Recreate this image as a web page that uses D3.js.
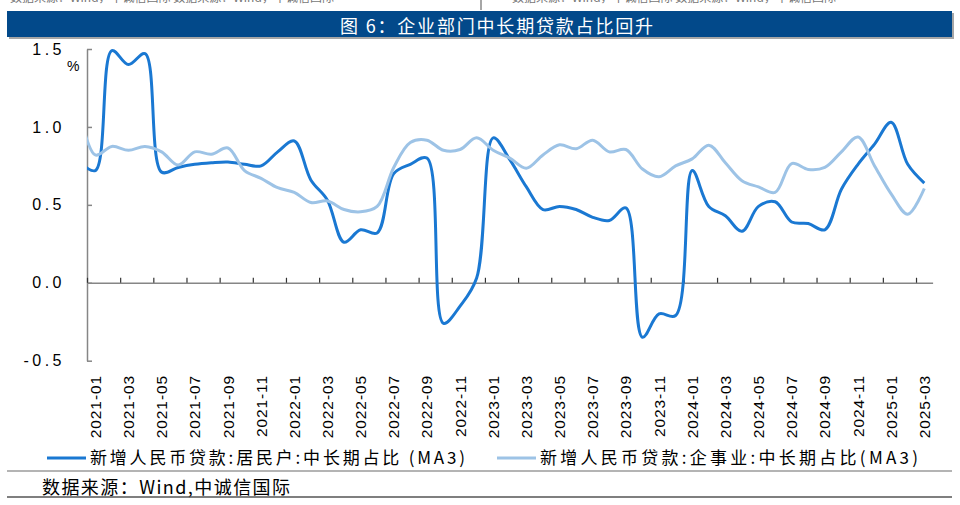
<!DOCTYPE html>
<html>
<head>
<meta charset="utf-8">
<script src="https://cdn.jsdelivr.net/npm/d3@7/dist/d3.min.js"></script>
<style>
  body { margin: 0; background: #fff; }
  text { font-family: "Liberation Sans", Arial, sans-serif; }
  .cjk { font-family: "Noto Sans CJK SC", sans-serif; }
</style>
</head>
<body>
<svg></svg>
<script>
var width = 960;
var height = 505;

// monthly categories, 2020-12 sits just left of the axis and is clipped away
var months = [
    "2020-12",
    "2021-01", "2021-02", "2021-03", "2021-04", "2021-05", "2021-06",
    "2021-07", "2021-08", "2021-09", "2021-10", "2021-11", "2021-12",
    "2022-01", "2022-02", "2022-03", "2022-04", "2022-05", "2022-06",
    "2022-07", "2022-08", "2022-09", "2022-10", "2022-11", "2022-12",
    "2023-01", "2023-02", "2023-03", "2023-04", "2023-05", "2023-06",
    "2023-07", "2023-08", "2023-09", "2023-10", "2023-11", "2023-12",
    "2024-01", "2024-02", "2024-03", "2024-04", "2024-05", "2024-06",
    "2024-07", "2024-08", "2024-09", "2024-10", "2024-11", "2024-12",
    "2025-01", "2025-02", "2025-03"
];

// 新增人民币贷款:居民户:中长期占比 (MA3)
var household = [
    0.78,
    0.72, 1.49, 1.40, 1.47, 0.71, 0.74, 0.76, 0.77, 0.775, 0.76, 0.75, 0.84,
    0.91, 0.66, 0.53, 0.26, 0.34, 0.32, 0.70, 0.76, 0.80, -0.26, -0.15, 0.03,
    0.93, 0.79, 0.615, 0.47, 0.49, 0.47, 0.42, 0.40, 0.48, -0.35, -0.20, -0.21,
    0.72, 0.49, 0.43, 0.33, 0.49, 0.52, 0.39, 0.38, 0.34, 0.60, 0.76, 0.89,
    1.03, 0.76, 0.64
];

// 新增人民币贷款:企事业:中长期占比 (MA3)
var corporate = [
    1.12,
    0.82, 0.875, 0.85, 0.875, 0.84, 0.755, 0.84, 0.825, 0.865, 0.72, 0.67, 0.61,
    0.58, 0.515, 0.525, 0.47, 0.455, 0.49, 0.74, 0.90, 0.915, 0.85, 0.855, 0.93,
    0.85, 0.80, 0.735, 0.82, 0.885, 0.86, 0.915, 0.84, 0.855, 0.73, 0.68, 0.75,
    0.795, 0.883, 0.77, 0.655, 0.615, 0.58, 0.765, 0.727, 0.74, 0.84, 0.935, 0.75,
    0.57, 0.44, 0.605
];

var yTicks = [-0.5, 0, 0.5, 1.0, 1.5];
var seriesNames = ["新增人民币贷款:居民户:中长期占比 (MA3)", "新增人民币贷款:企事业:中长期占比(MA3)"];
var seriesColors = ["#1a78d2", "#9dc3e6"];
var titleText = "图 6：企业部门中长期贷款占比回升";
var sourceText = "数据来源：Wind,中诚信国际";
var topRemnant = "数据来源：Wind，中诚信国际";

var svg = d3.select("svg")
    .attr("width", width)
    .attr("height", height);

// bits of the previous exhibit peeking in at the top edge
[10, 512].forEach(function(tx) {
    svg.append("text")
        .attr("class", "cjk")
        .attr("x", tx).attr("y", 1.5)
        .attr("font-size", 12).attr("fill", "#777")
        .text(topRemnant + "            " + topRemnant);
});
svg.append("line")
    .attr("x1", 481).attr("x2", 481).attr("y1", 0).attr("y2", 10)
    .attr("stroke", "#888").attr("stroke-width", 1.5);

// title bar
svg.append("rect")
    .attr("x", 9).attr("y", 13).attr("width", 945).attr("height", 26)
    .attr("fill", "#a6a6a6");
svg.append("rect")
    .attr("x", 7).attr("y", 11).attr("width", 945).attr("height", 26)
    .attr("fill", "#02498a");
svg.append("text")
    .attr("class", "cjk")
    .attr("x", 340).attr("y", 25)
    .attr("dominant-baseline", "central")
    .attr("font-size", 18)
    .attr("fill", "#fff")
    .attr("textLength", 313)
    .attr("lengthAdjust", "spacing")
    .text(titleText);

// scales
var x = d3.scaleLinear()
    .domain([0.5, months.length - 0.5])
    .range([87, 932.6]);

var y = d3.scaleLinear()
    .domain([-0.5, 1.5])
    .range([360.7, 49]);

svg.append("clipPath").attr("id", "plot-clip")
  .append("rect")
    .attr("x", x.range()[0]).attr("y", 30)
    .attr("width", x.range()[1] - x.range()[0]).attr("height", 345);

// y axis
var yAxis = svg.append("g")
    .attr("transform", "translate(" + x.range()[0] + ",0)")
    .call(d3.axisLeft(y)
        .tickValues(yTicks)
        .tickSize(-5)
        .tickSizeOuter(0)
        .tickPadding(22)
        .tickFormat(d3.format(".1f")));
yAxis.select(".domain").attr("stroke", "#868686").attr("stroke-width", 1.5);
yAxis.selectAll(".tick line").attr("stroke", "#868686").attr("stroke-width", 1.5);
yAxis.selectAll(".tick text")
    .attr("font-family", "Liberation Sans, Arial, sans-serif")
    .attr("font-size", 16)
    .attr("fill", "#000")
    .style("letter-spacing", "3.5px")
    .text(function(d) { return d3.format(".1f")(d).replace("−", "-"); });

svg.append("text")
    .attr("x", 67).attr("y", 66)
    .attr("dominant-baseline", "central")
    .attr("font-size", 14)
    .text("%");

// category axis along zero, ticks every two months on band edges
var xAxis = svg.append("g")
    .attr("transform", "translate(0," + y(0) + ")")
    .call(d3.axisBottom(x)
        .tickValues(d3.range(0.5, months.length, 2))
        .tickSize(-5)
        .tickSizeOuter(0)
        .tickFormat(""));
xAxis.select(".domain").attr("stroke", "#868686").attr("stroke-width", 1.5);
xAxis.selectAll(".tick line").attr("stroke", "#333").attr("stroke-width", 1.2);

var labelMonths = months.map(function(m, i) { return { m: m, i: i }; })
    .filter(function(d) { return d.i % 2 === 1; });

svg.append("g").selectAll("text")
    .data(labelMonths)
  .enter().append("text")
    .attr("transform", function(d) { return "translate(" + x(d.i) + ",375) rotate(-90)"; })
    .attr("text-anchor", "end")
    .attr("dy", "0.36em")
    .attr("font-size", 15.5)
    .style("letter-spacing", "0.9px")
    .text(function(d) { return d.m; });

// lines
var line = d3.line()
    .x(function(d, i) { return x(i); })
    .y(function(d) { return y(d); })
    .curve(d3.curveCatmullRom.alpha(0.5));

var lines = svg.append("g").attr("clip-path", "url(#plot-clip)");

[household, corporate].forEach(function(series, k) {
    lines.append("path")
        .datum(series)
        .attr("fill", "none")
        .attr("stroke", seriesColors[k])
        .attr("stroke-width", 3)
        .attr("stroke-linejoin", "round")
        .attr("d", line);
});

// legend
var legendX = [47, 497];
var legendTextLen = [375, 378];
seriesNames.forEach(function(name, k) {
    svg.append("line")
        .attr("x1", legendX[k]).attr("x2", legendX[k] + 39)
        .attr("y1", 458).attr("y2", 458)
        .attr("stroke", seriesColors[k])
        .attr("stroke-width", 3);
    svg.append("text")
        .attr("class", "cjk")
        .attr("x", legendX[k] + 43).attr("y", 456)
        .attr("dominant-baseline", "central")
        .attr("font-size", 17)
        .attr("textLength", legendTextLen[k])
        .attr("lengthAdjust", "spacing")
        .text(name);
});

// footer
svg.append("line")
    .attr("x1", 7).attr("x2", 952).attr("y1", 471).attr("y2", 471)
    .attr("stroke", "#b4b4b4").attr("stroke-width", 2);
svg.append("text")
    .attr("class", "cjk")
    .attr("x", 42).attr("y", 486)
    .attr("dominant-baseline", "central")
    .attr("font-size", 18)
    .attr("textLength", 248)
    .attr("lengthAdjust", "spacing")
    .text(sourceText);
svg.append("line")
    .attr("x1", 7).attr("x2", 952).attr("y1", 497).attr("y2", 497)
    .attr("stroke", "#555").attr("stroke-width", 1.5);
</script>
</body>
</html>
